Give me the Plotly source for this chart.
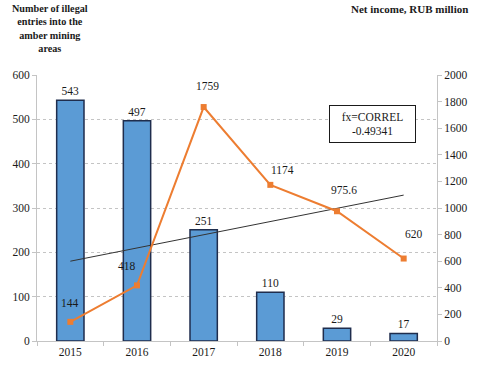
import plotly.graph_objects as go

years = ["2015", "2016", "2017", "2018", "2019", "2020"]
entries = [543, 497, 251, 110, 29, 17]
income = [144, 418, 1759, 1174, 975.6, 620]
trend_x = ["2015", "2020"]
trend_y = [600, 1097]

FONT = "Liberation Serif"
TXT = "#1a1a1a"
BLUE = "#5b9bd5"
NAVY = "#1f2d4d"
ORANGE = "#ed7d31"
GRID = "#c4c4c4"

fig = go.Figure()

fig.add_trace(go.Bar(
    x=years, y=entries,
    marker=dict(color=BLUE, line=dict(color=NAVY, width=1.5)),
    text=[str(v) for v in entries],
    textposition="outside",
    textfont=dict(family=FONT, size=11.5, color=TXT),
    cliponaxis=False,
    showlegend=False,
))

fig.add_trace(go.Scatter(
    x=trend_x, y=trend_y, yaxis="y2",
    mode="lines",
    line=dict(color="#333333", width=1),
    showlegend=False,
))

fig.add_trace(go.Scatter(
    x=years, y=income, yaxis="y2",
    mode="lines+markers",
    line=dict(color=ORANGE, width=2),
    marker=dict(symbol="square", size=6, color=ORANGE),
    showlegend=False,
))

# value labels for the income line, lifted above the markers
# (category index used for x so the annotations don't stretch the axis)
label_shift = [(0, 19), (-10, 19), (4, 21), (12, 15), (7, 21), (10, 25)]
for i, (v, (dx, dy)) in enumerate(zip(income, label_shift)):
    fig.add_annotation(
        x=i, y=v, xref="x", yref="y2",
        text=f"{v:g}", showarrow=False,
        xshift=dx, yshift=dy,
        font=dict(family=FONT, size=11.5, color=TXT),
    )

fig.add_annotation(
    x=0.032, y=1.28, xref="paper", yref="paper",
    xanchor="center", yanchor="top",
    text="<b>Number of illegal<br>entries into the<br>amber mining<br>areas</b>",
    showarrow=False, align="center",
    font=dict(family=FONT, size=10.2, color=TXT),
)
fig.add_annotation(
    x=1.083, y=1.248, xref="paper", yref="paper",
    xanchor="right", yanchor="middle",
    text="<b>Net income, RUB million</b>",
    showarrow=False,
    font=dict(family=FONT, size=11, color=TXT),
)
fig.add_annotation(
    x=0.838, y=0.816, xref="paper", yref="paper",
    xanchor="center", yanchor="middle",
    text="fx=CORREL<br>-0.49341",
    showarrow=False, align="center",
    width=83, height=34,
    bordercolor=TXT, borderwidth=1, bgcolor="white",
    font=dict(family=FONT, size=11.5, color=TXT),
)

fig.update_layout(
    width=480, height=370,
    margin=dict(l=33, r=37, t=75, b=29),
    paper_bgcolor="white", plot_bgcolor="white",
    font=dict(family=FONT, size=11.5, color=TXT),
    bargap=0.59,
    xaxis=dict(
        type="category", range=[-0.5, len(years) - 0.5],
        showline=True, linecolor=GRID, linewidth=1,
        ticks="outside", tickson="boundaries", ticklen=4, tickcolor=GRID,
        showgrid=False, tickangle=0,
    ),
    yaxis=dict(
        range=[0, 600], dtick=100,
        showline=True, linecolor=GRID, linewidth=1,
        ticks="outside", ticklen=4, tickcolor=GRID,
        showgrid=True, gridcolor=GRID, griddash="dot", gridwidth=1,
        zeroline=False,
    ),
    yaxis2=dict(
        range=[0, 2000], dtick=200,
        overlaying="y", side="right",
        showline=True, linecolor=GRID, linewidth=1,
        ticks="outside", ticklen=4, tickcolor=GRID,
        showgrid=False, zeroline=False,
    ),
)

# drop the page's default 8px body margin so the chart sits at the corner
fig.write_html("out.html", config={"displayModeBar": False},
               post_script="document.body.style.margin='0';")
